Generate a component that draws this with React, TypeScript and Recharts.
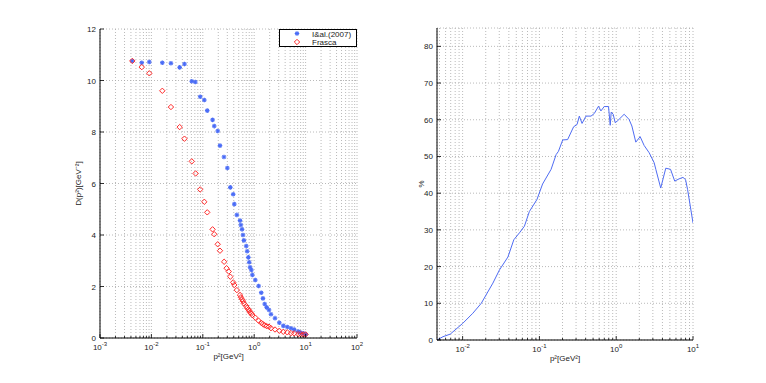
import {
  ScatterChart,
  Scatter,
  LineChart,
  Line,
  XAxis,
  YAxis,
  CartesianGrid,
  Legend
} from "recharts";

// left panel: gluon propagator, lattice vs Frasca
const blueP2 = [
  0.00425, 0.0065, 0.0091, 0.0163, 0.024, 0.0355, 0.044, 0.061, 0.0715, 0.089,
  0.107, 0.122, 0.155, 0.167, 0.195, 0.216, 0.258, 0.3, 0.343, 0.39, 0.41, 0.46,
  0.53, 0.55, 0.58, 0.605, 0.63, 0.7, 0.73, 0.77, 0.8, 0.83, 0.88, 0.92, 1.05,
  1.22, 1.37, 1.48, 1.6, 1.75, 1.94, 2.12, 2.54, 3.08, 3.68, 4.4, 5.2, 6.0, 7.2,
  8.0, 9.0, 10.0
];
const blueD = [
  10.76, 10.69, 10.72, 10.69, 10.67, 10.51, 10.64, 9.97, 9.94, 9.37, 9.24, 8.83,
  8.47, 8.23, 8.04, 7.47, 7.03, 6.6, 5.85, 5.58, 5.2, 4.78, 4.56, 4.39, 4.22, 4.0,
  3.79, 3.57, 3.37, 3.13, 2.94, 2.75, 2.64, 2.45, 2.25, 2.02, 1.76, 1.54, 1.32,
  1.19, 1.09, 0.92, 0.77, 0.59, 0.47, 0.43, 0.38, 0.33, 0.25, 0.21, 0.18, 0.14
];
const redP2 = [
  0.00425, 0.0065, 0.0091, 0.0163, 0.024, 0.0355, 0.044, 0.061, 0.0725, 0.089,
  0.107, 0.122, 0.155, 0.167, 0.195, 0.216, 0.26, 0.29, 0.32, 0.343, 0.39, 0.41,
  0.46, 0.53, 0.55, 0.58, 0.605, 0.63, 0.7, 0.73, 0.77, 0.8, 0.83, 0.88, 0.92,
  1.05, 1.22, 1.37, 1.48, 1.6, 1.75, 1.94, 2.12, 2.54, 3.08, 3.68, 4.4, 5.2, 6.0,
  7.2, 8.0, 9.0, 10.0
];
const redD = [
  10.76, 10.52, 10.28, 9.6, 8.97, 8.19, 7.74, 6.86, 6.39, 5.77, 5.29, 4.88, 4.22,
  4.03, 3.64, 3.39, 2.96, 2.71, 2.58, 2.38, 2.16, 2.06, 1.86, 1.67, 1.58, 1.5,
  1.43, 1.34, 1.24, 1.17, 1.11, 1.06, 0.99, 0.95, 0.89, 0.79, 0.67, 0.59, 0.54,
  0.49, 0.46, 0.44, 0.38, 0.33, 0.28, 0.24, 0.22, 0.19, 0.18, 0.15, 0.15, 0.14,
  0.14
];

// right panel: relative difference in %
const pctP2 = [
  0.00464, 0.00555, 0.0069, 0.01, 0.0136, 0.0175, 0.0248, 0.0302, 0.0389, 0.0464,
  0.055, 0.0638, 0.074, 0.093, 0.11, 0.142, 0.165, 0.177, 0.201, 0.233, 0.279,
  0.309, 0.331, 0.359, 0.404, 0.47, 0.518, 0.589, 0.632, 0.698, 0.794, 0.836,
  0.861, 0.913, 0.97, 1.04, 1.27, 1.47, 1.6, 1.8, 2.05, 2.31, 2.69, 3.12, 3.28,
  3.8, 4.42, 5.1, 5.78, 6.58, 7.4, 8.0, 8.5, 10.0
];
const pctVal = [
  0, 0.9, 1.6, 4.5, 7.3, 10, 15.5, 19.1, 22.6, 27.3, 29.2, 31, 35, 38.3, 42.5,
  46.5, 50.5, 51.4, 54.5, 54.6, 58.1, 58.7, 61.0, 59, 61, 61, 61.7, 63.7, 62.4,
  63.6, 63.6, 58.5, 62.1, 61.5, 59.2, 59.7, 61.5, 60.1, 58.3, 53.9, 55.4, 53, 51,
  48.3, 46.5, 41.4, 46.8, 46.5, 43.3, 43.9, 44.3, 43.7, 41, 31.9
];

const leftDecades = [0.001, 0.01, 0.1, 1, 10, 100];
const rightDecades = [0.001, 0.01, 0.1, 1, 10];
const minorFactors = [2, 3, 4, 5, 6, 7, 8, 9];
const leftYTicks = [0, 2, 4, 6, 8, 10, 12];
const rightYTicks = [0, 10, 20, 30, 40, 50, 60, 70, 80];

const LEFT_DOMAIN: [number, number] = [0.001, 100];
const RIGHT_DOMAIN: [number, number] = [0.00464, 10];

const logTicks = (decades: number[], [lo, hi]: [number, number]) =>
  decades
    .flatMap(d => [d, ...minorFactors.map(f => d * f)])
    .filter(v => v >= lo * 0.9999 && v <= hi * 1.0001);

const isDecade = (v: number) => {
  const l = Math.log10(v);
  return Math.abs(l - Math.round(l)) < 1e-6;
};

const FONT = "'Liberation Sans', Arial, sans-serif";
const TEXT = "#222";
const GRID = "#a8a8a8";
const AXIS = { stroke: "#000", strokeWidth: 1 };

const XTick = (props: any) => {
  const { x, y, payload, top } = props;
  const v = payload.value as number;
  const major = isDecade(v);
  const len = major ? 4 : 2;
  if (top) {
    return <line x1={x} x2={x} y1={y} y2={y + len} stroke="#000" strokeWidth={0.8} />;
  }
  return (
    <g>
      <line x1={x} x2={x} y1={y} y2={y - len} stroke="#000" strokeWidth={0.8} />
      {major && (
        <text x={x} y={y + 12} textAnchor="middle" fontSize={8} fill={TEXT} fontFamily={FONT}>
          10
          <tspan dy={-4} fontSize={6}>
            {String(Math.round(Math.log10(v)))}
          </tspan>
        </text>
      )}
    </g>
  );
};

const YTick = (props: any) => {
  const { x, y, payload, right } = props;
  if (right) {
    return <line x1={x} x2={x - 4} y1={y} y2={y} stroke="#000" strokeWidth={0.8} />;
  }
  return (
    <g>
      <line x1={x} x2={x + 4} y1={y} y2={y} stroke="#000" strokeWidth={0.8} />
      <text x={x - 4} y={y + 3} textAnchor="end" fontSize={8} fill={TEXT} fontFamily={FONT}>
        {payload.value}
      </text>
    </g>
  );
};

const XTitle = ({ viewBox }: any) => (
  <text
    x={viewBox.x + viewBox.width / 2}
    y={viewBox.y + 21}
    textAnchor="middle"
    fontSize={8}
    fill={TEXT}
    fontFamily={FONT}
  >
    p²[GeV²]
  </text>
);

const YTitle = ({ viewBox, text, dx }: any) => {
  const cx = viewBox.x + viewBox.width - dx;
  const cy = viewBox.y + viewBox.height / 2;
  return (
    <text
      x={cx}
      y={cy}
      transform={`rotate(-90 ${cx} ${cy})`}
      textAnchor="middle"
      fontSize={8}
      fill={TEXT}
      fontFamily={FONT}
    >
      {text}
    </text>
  );
};

const Star = ({ cx, cy }: any) => {
  const r = 2.3;
  const d = r * 0.7;
  return (
    <g stroke="#4a6cf6" strokeWidth={1.2}>
      <line x1={cx - r} x2={cx + r} y1={cy} y2={cy} />
      <line x1={cx} x2={cx} y1={cy - r} y2={cy + r} />
      <line x1={cx - d} x2={cx + d} y1={cy - d} y2={cy + d} />
      <line x1={cx - d} x2={cx + d} y1={cy + d} y2={cy - d} />
    </g>
  );
};

const Diamond = ({ cx, cy }: any) => {
  const r = 2.7;
  return (
    <polygon
      points={`${cx},${cy - r} ${cx + r},${cy} ${cx},${cy + r} ${cx - r},${cy}`}
      fill="none"
      stroke="#ff2a2a"
      strokeWidth={1}
    />
  );
};

const LegendBox = () => (
  <svg width={78} height={18} style={{ display: "block" }}>
    <rect x={0.5} y={0.5} width={77} height={17} fill="#fff" stroke="#000" strokeWidth={1} />
    <Star cx={18} cy={4.5} />
    <Diamond cx={18} cy={13} />
    <text x={33} y={7.5} fontSize={8} fill={TEXT} fontFamily={FONT}>
      I&amp;al.(2007)
    </text>
    <text x={33} y={16} fontSize={8} fill={TEXT} fontFamily={FONT}>
      Frasca
    </text>
  </svg>
);

export default function App() {
  const leftTicks = logTicks(leftDecades, LEFT_DOMAIN);
  const rightTicks = logTicks(rightDecades, RIGHT_DOMAIN);
  const blueData = blueP2.map((x, i) => ({ x, y: blueD[i] }));
  const redData = redP2.map((x, i) => ({ x, y: redD[i] }));
  const pctData = pctP2.map((x, i) => ({ x, v: pctVal[i] }));

  return (
    <div
      style={{
        position: "absolute",
        left: 0,
        top: 0,
        width: 766,
        height: 383,
        background: "#fff",
        fontFamily: FONT
      }}
    >
      <div style={{ position: "absolute", left: 0, top: 0 }}>
        <ScatterChart width={400} height={383} margin={{ top: 29, right: 43, bottom: 15, left: 60 }}>
          <CartesianGrid stroke={GRID} strokeDasharray="1 2" strokeWidth={0.8} />
          <XAxis
            dataKey="x"
            type="number"
            scale="log"
            domain={LEFT_DOMAIN}
            allowDataOverflow
            ticks={leftTicks}
            interval={0}
            height={30}
            tickSize={0}
            tickMargin={0}
            axisLine={AXIS}
            tick={(p: any) => <XTick {...p} />}
            label={<XTitle />}
          />
          <XAxis
            xAxisId="top"
            orientation="top"
            dataKey="x"
            type="number"
            scale="log"
            domain={LEFT_DOMAIN}
            allowDataOverflow
            ticks={leftTicks}
            interval={0}
            height={0}
            tickSize={0}
            tickMargin={0}
            axisLine={AXIS}
            tick={(p: any) => <XTick {...p} top />}
          />
          <YAxis
            dataKey="y"
            type="number"
            domain={[0, 12]}
            ticks={leftYTicks}
            interval={0}
            width={40}
            tickSize={0}
            tickMargin={0}
            axisLine={AXIS}
            tick={(p: any) => <YTick {...p} />}
            label={<YTitle text="D(p²)[GeV⁻²]" dx={19} />}
          />
          <YAxis
            yAxisId="right"
            orientation="right"
            type="number"
            domain={[0, 12]}
            ticks={leftYTicks}
            interval={0}
            width={0}
            tickSize={0}
            tickMargin={0}
            axisLine={AXIS}
            tick={(p: any) => <YTick {...p} right />}
          />
          <Legend
            layout="horizontal"
            verticalAlign="middle"
            align="center"
            wrapperStyle={{ top: 29, left: 279, width: 78 }}
            content={() => <LegendBox />}
          />
          <Scatter
            name="I&al.(2007)"
            data={blueData}
            shape={(p: any) => <Star cx={p.cx} cy={p.cy} />}
            isAnimationActive={false}
          />
          <Scatter
            name="Frasca"
            data={redData}
            shape={(p: any) => <Diamond cx={p.cx} cy={p.cy} />}
            isAnimationActive={false}
          />
        </ScatterChart>
      </div>
      <div style={{ position: "absolute", left: 400, top: 0 }}>
        <LineChart width={366} height={383} data={pctData} margin={{ top: 28, right: 73, bottom: 13, left: 7 }}>
          <CartesianGrid stroke={GRID} strokeDasharray="1 2" strokeWidth={0.8} />
          <XAxis
            dataKey="x"
            type="number"
            scale="log"
            domain={RIGHT_DOMAIN}
            allowDataOverflow
            ticks={rightTicks}
            interval={0}
            height={30}
            tickSize={0}
            tickMargin={0}
            axisLine={AXIS}
            tick={(p: any) => <XTick {...p} />}
            label={<XTitle />}
          />
          <XAxis
            xAxisId="top"
            orientation="top"
            dataKey="x"
            type="number"
            scale="log"
            domain={RIGHT_DOMAIN}
            allowDataOverflow
            ticks={rightTicks}
            interval={0}
            height={0}
            tickSize={0}
            tickMargin={0}
            axisLine={AXIS}
            tick={(p: any) => <XTick {...p} top />}
          />
          <YAxis
            type="number"
            domain={[0, 85]}
            allowDataOverflow
            ticks={rightYTicks}
            interval={0}
            width={30}
            tickSize={0}
            tickMargin={0}
            axisLine={AXIS}
            tick={(p: any) => <YTick {...p} />}
            label={<YTitle text="%" dx={13} />}
          />
          <YAxis
            yAxisId="right"
            orientation="right"
            type="number"
            domain={[0, 85]}
            allowDataOverflow
            ticks={rightYTicks}
            interval={0}
            width={0}
            tickSize={0}
            tickMargin={0}
            axisLine={AXIS}
            tick={(p: any) => <YTick {...p} right />}
          />
          <Line
            type="linear"
            dataKey="v"
            stroke="#4f6cf3"
            strokeWidth={1}
            dot={false}
            isAnimationActive={false}
          />
        </LineChart>
      </div>
    </div>
  );
}
